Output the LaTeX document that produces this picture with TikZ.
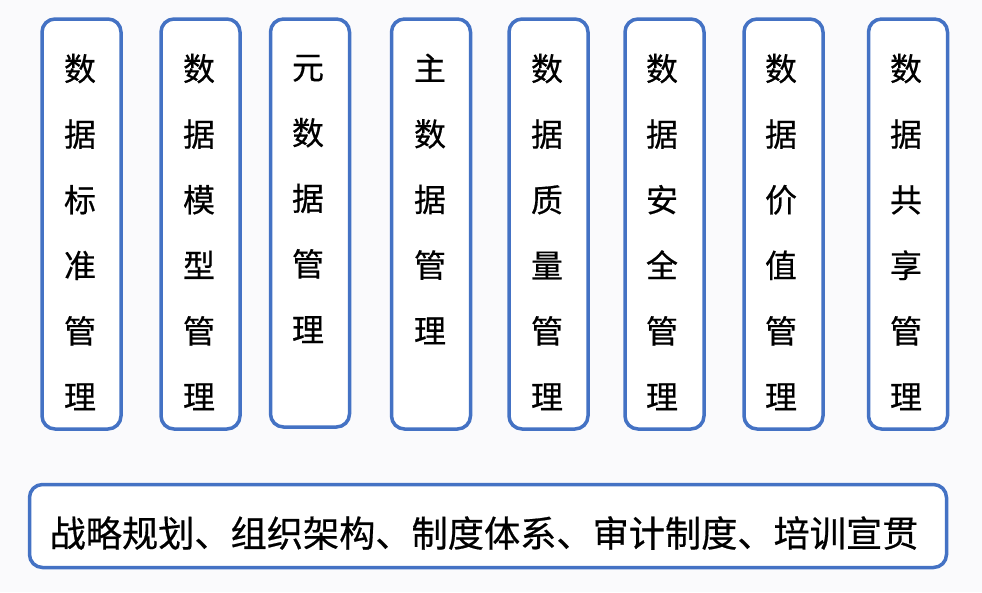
\documentclass[tikz,border=0pt]{standalone}
\usepackage{fontspec}
\setmainfont[FakeBold=0.5]{Noto Sans CJK SC}
\definecolor{boxblue}{HTML}{4472C4}
\definecolor{bgcol}{HTML}{FAFAFC}
\tikzset{
  colbox/.style={draw=boxblue, line width=3.5pt, rounded corners=13pt, fill=white,
    minimum width=79pt, inner sep=0pt},
  coltext/.style={align=center, inner sep=0pt, font=\fontsize{32}{65.6}\selectfont},
  basebox/.style={draw=boxblue, line width=3.5pt, rounded corners=13pt, fill=white,
    minimum width=917pt, minimum height=83pt, inner sep=0pt},
  basetext/.style={inner sep=0pt, font=\fontsize{36.2}{40}\selectfont}
}
\begin{document}
\begin{tikzpicture}[x=1pt,y=-1pt]
\fill[bgcol] (0,0) rectangle (982,592);
\useasboundingbox (0,0) rectangle (982,592);
% column boxes
\node[colbox, minimum height=410pt] (b1) at (81.5,224) {};
\node[colbox, minimum height=410pt] (b2) at (200.5,224) {};
\node[colbox, minimum height=408pt] (b3) at (310,223) {};
\node[colbox, minimum height=410pt] (b4) at (431,224) {};
\node[colbox, minimum height=410pt] (b5) at (548.5,224) {};
\node[colbox, minimum height=410pt] (b6) at (664.5,224) {};
\node[colbox, minimum height=410pt] (b7) at (783.5,224) {};
\node[colbox, minimum height=410pt] (b8) at (908,224) {};
% column texts
\node[coltext] (t1) at (80,232) {数\\据\\标\\准\\管\\理};
\node[coltext] (t2) at (199,232) {数\\据\\模\\型\\管\\理};
\node[coltext] (t3) at (308,199) {元\\数\\据\\管\\理};
\node[coltext] (t4) at (430,199) {主\\数\\据\\管\\理};
\node[coltext] (t5) at (547,232) {数\\据\\质\\量\\管\\理};
\node[coltext] (t6) at (662,232) {数\\据\\安\\全\\管\\理};
\node[coltext] (t7) at (781,232) {数\\据\\价\\值\\管\\理};
\node[coltext] (t8) at (906,232) {数\\据\\共\\享\\管\\理};
% base box
\node[basebox] (base) at (488,526) {};
\node[basetext] (bt) at (484,533) {战略规划、组织架构、制度体系、审计制度、培训宣贯};
\end{tikzpicture}
\end{document}
